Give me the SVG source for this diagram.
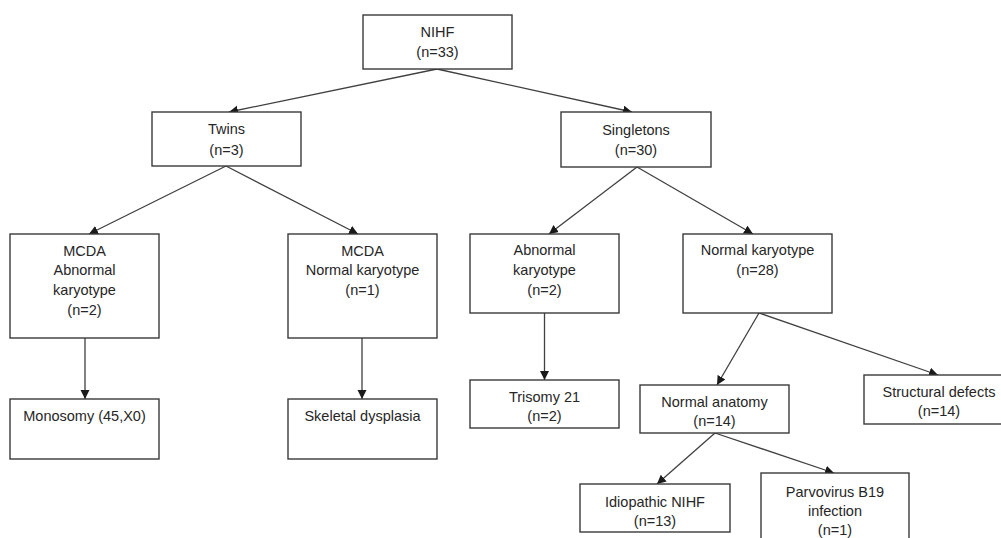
<svg xmlns="http://www.w3.org/2000/svg" width="1001" height="538" viewBox="0 0 1001 538">
<defs>
<style>
.box{fill:#ffffff;stroke:#3a3a3a;stroke-width:1.4}
.t{font-family:"Liberation Sans","Open Sans",sans-serif;font-size:14.5px;fill:#262626;text-anchor:middle}
.c{stroke:#404040;stroke-width:1.3;fill:none;marker-end:url(#ah)}
</style>
<marker id="ah" markerUnits="userSpaceOnUse" markerWidth="10" markerHeight="10" refX="9" refY="4.5" orient="auto">
<path d="M0,0 L9,4.5 L0,9 z" fill="#1a1a1a"/>
</marker>
</defs>
<rect width="1001" height="538" fill="#ffffff"/>
<g id="connectors">
<line class="c" x1="437" y1="69" x2="229" y2="112"/>
<line class="c" x1="437" y1="69" x2="632" y2="112"/>
<line class="c" x1="226" y1="166" x2="89" y2="234"/>
<line class="c" x1="226" y1="166" x2="358" y2="234"/>
<line class="c" x1="85" y1="338" x2="85" y2="399"/>
<line class="c" x1="362" y1="338" x2="362" y2="399"/>
<line class="c" x1="637" y1="167" x2="549" y2="234"/>
<line class="c" x1="637" y1="167" x2="753" y2="234"/>
<line class="c" x1="544.5" y1="313" x2="544.5" y2="380"/>
<line class="c" x1="759" y1="313" x2="717" y2="385"/>
<line class="c" x1="759" y1="313" x2="938" y2="375"/>
<line class="c" x1="715" y1="433" x2="657" y2="484"/>
<line class="c" x1="715" y1="433" x2="834" y2="473"/>
</g>
<g id="nihf">
<rect class="box" x="363" y="15" width="149" height="54"/>
<text class="t" x="437.5" y="37">NIHF</text>
<text class="t" x="437.5" y="57">(n=33)</text>
</g>
<g id="twins">
<rect class="box" x="152" y="112" width="149" height="54"/>
<text class="t" x="226.5" y="134">Twins</text>
<text class="t" x="226.5" y="155">(n=3)</text>
</g>
<g id="singletons">
<rect class="box" x="561" y="112" width="150" height="55"/>
<text class="t" x="636" y="135">Singletons</text>
<text class="t" x="636" y="155">(n=30)</text>
</g>
<g id="mcda-abnormal">
<rect class="box" x="10" y="234" width="149" height="104"/>
<text class="t" x="84.5" y="256">MCDA</text>
<text class="t" x="84.5" y="275">Abnormal</text>
<text class="t" x="84.5" y="295">karyotype</text>
<text class="t" x="84.5" y="315">(n=2)</text>
</g>
<g id="mcda-normal">
<rect class="box" x="288" y="234" width="149" height="104"/>
<text class="t" x="362.5" y="256">MCDA</text>
<text class="t" x="362.5" y="275">Normal karyotype</text>
<text class="t" x="362.5" y="295">(n=1)</text>
</g>
<g id="monosomy">
<rect class="box" x="10" y="399" width="149" height="60"/>
<text class="t" x="84.5" y="421">Monosomy (45,X0)</text>
</g>
<g id="skeletal">
<rect class="box" x="288" y="399" width="149" height="60"/>
<text class="t" x="362.5" y="421">Skeletal dysplasia</text>
</g>
<g id="abnormal-karyotype">
<rect class="box" x="470" y="234" width="149" height="79"/>
<text class="t" x="544.5" y="255">Abnormal</text>
<text class="t" x="544.5" y="275">karyotype</text>
<text class="t" x="544.5" y="295">(n=2)</text>
</g>
<g id="normal-karyotype">
<rect class="box" x="683" y="234" width="149" height="79"/>
<text class="t" x="757.5" y="255">Normal karyotype</text>
<text class="t" x="757.5" y="275">(n=28)</text>
</g>
<g id="trisomy">
<rect class="box" x="470" y="380" width="149" height="48"/>
<text class="t" x="544.5" y="402">Trisomy 21</text>
<text class="t" x="544.5" y="421">(n=2)</text>
</g>
<g id="normal-anatomy">
<rect class="box" x="640" y="385" width="149" height="48"/>
<text class="t" x="714.5" y="407">Normal anatomy</text>
<text class="t" x="714.5" y="426">(n=14)</text>
</g>
<g id="structural">
<rect class="box" x="864" y="375" width="150" height="49"/>
<text class="t" x="939" y="397">Structural defects</text>
<text class="t" x="939" y="416">(n=14)</text>
</g>
<g id="idiopathic">
<rect class="box" x="580" y="484" width="150" height="48"/>
<text class="t" x="655" y="507">Idiopathic NIHF</text>
<text class="t" x="655" y="526">(n=13)</text>
</g>
<g id="parvovirus">
<rect class="box" x="761" y="473" width="148" height="80"/>
<text class="t" x="835" y="497">Parvovirus B19</text>
<text class="t" x="835" y="516">infection</text>
<text class="t" x="835" y="535">(n=1)</text>
</g>
</svg>
